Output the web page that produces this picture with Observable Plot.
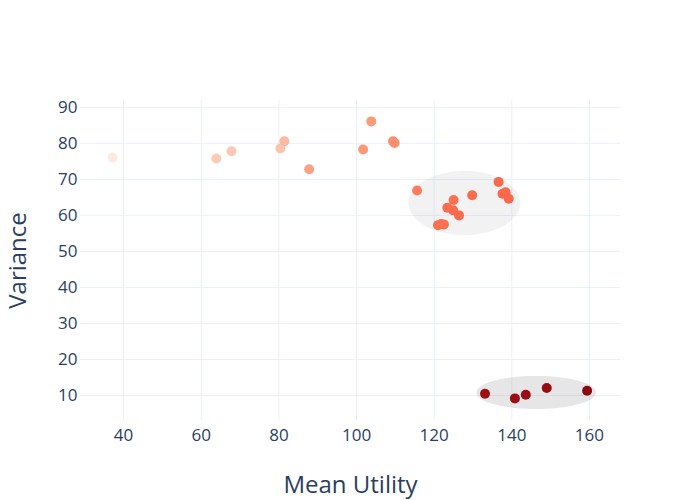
<!DOCTYPE html>
<html>
<head>
<meta charset="utf-8">
<script src="https://cdn.jsdelivr.net/npm/d3@7"></script>
<script src="https://cdn.jsdelivr.net/npm/@observablehq/plot@0.6"></script>
<style>
  html, body { margin: 0; padding: 0; background: #fff; }
  #chart svg { display: block; }
</style>
</head>
<body>
<div id="chart"></div>
<script>
// Portfolio candidates: mean utility vs. variance, coloured by score
const meanUtility = [37.2, 63.9, 67.8, 80.4, 81.4, 87.8, 101.7, 103.8, 109.4, 109.8,
  115.6, 121.0, 121.8, 122.5, 123.4, 124.9, 125.0, 126.4, 129.8, 136.6, 137.6, 138.4, 139.2,
  133.1, 140.8, 143.6, 149.0, 159.4];
const variance = [76.1, 75.8, 77.8, 78.6, 80.6, 72.8, 78.3, 86.1, 80.6, 80.1,
  66.9, 57.3, 57.6, 57.5, 62.1, 61.4, 64.3, 60.0, 65.6, 69.3, 66.0, 66.4, 64.6,
  10.5, 9.2, 10.2, 12.1, 11.3];
const score = [0.07, 0.19, 0.2, 0.22, 0.25, 0.33, 0.36, 0.35, 0.39, 0.39,
  0.44, 0.48, 0.48, 0.48, 0.49, 0.49, 0.48, 0.5, 0.49, 0.5, 0.5, 0.5, 0.5,
  0.88, 0.89, 0.89, 0.9, 0.93];

// Cluster outlines (centre and half-widths in data units)
const clusterName = ["high variance", "low variance"];
const clusterCx = [127.9, 146.4];
const clusterCy = [63.3, 10.7];
const clusterRx = [14.4, 15.4];
const clusterRy = [8.9, 4.6];
const clusterOpacity = [0.1, 0.2];

const xTicks = [40, 60, 80, 100, 120, 140, 160];
const yTicks = [10, 20, 30, 40, 50, 60, 70, 80, 90];

const points = meanUtility.map((x, i) => ({x, y: variance[i], score: score[i]}));

// Trace each cluster ellipse as a band between its lower and upper halves
const ellipseRows = clusterName.flatMap((name, k) =>
  d3.range(0, 81).map(j => {
    const t = Math.PI - (Math.PI * j) / 80;
    const h = clusterRy[k] * Math.sin(t);
    return {
      cluster: name,
      opacity: clusterOpacity[k],
      x: clusterCx[k] + clusterRx[k] * Math.cos(t),
      lo: clusterCy[k] - h,
      hi: clusterCy[k] + h
    };
  })
);

const ink = "#2a3f5f";
const gridColor = "#ebf0f8";

const chart = Plot.plot({
  width: 700,
  height: 500,
  marginLeft: 80,
  marginRight: 80,
  marginTop: 100,
  marginBottom: 80,
  style: {fontFamily: "'Open Sans', sans-serif", color: ink, background: "#fff"},
  x: {domain: [28.9, 168], axis: null},
  y: {domain: [3.06, 91.9], axis: null},
  color: {type: "linear", domain: [0, 1], scheme: "reds"},
  marks: [
    Plot.gridX(xTicks, {stroke: gridColor, strokeOpacity: 1}),
    Plot.gridY(yTicks, {stroke: gridColor, strokeOpacity: 1}),
    Plot.axisX(xTicks, {tickSize: 0, tickPadding: 8, fontSize: 17, fill: ink, label: null}),
    Plot.axisY(yTicks, {tickSize: 0, tickPadding: 3, fontSize: 17, fill: ink, label: null}),
    Plot.areaY(ellipseRows, {
      x: "x", y1: "lo", y2: "hi", z: "cluster",
      fill: "gray", fillOpacity: "opacity", curve: "linear"
    }),
    Plot.dot(points, {x: "x", y: "y", r: 5, fill: "score", stroke: null}),
    Plot.text(["Mean Utility"], {frameAnchor: "bottom", lineAnchor: "middle", dy: 65, fontSize: 24, fill: ink}),
    Plot.text(["Variance"], {frameAnchor: "left", textAnchor: "middle", dx: -62, rotate: -90, fontSize: 24, fill: ink})
  ]
});

document.getElementById("chart").appendChild(chart);
</script>
</body>
</html>
